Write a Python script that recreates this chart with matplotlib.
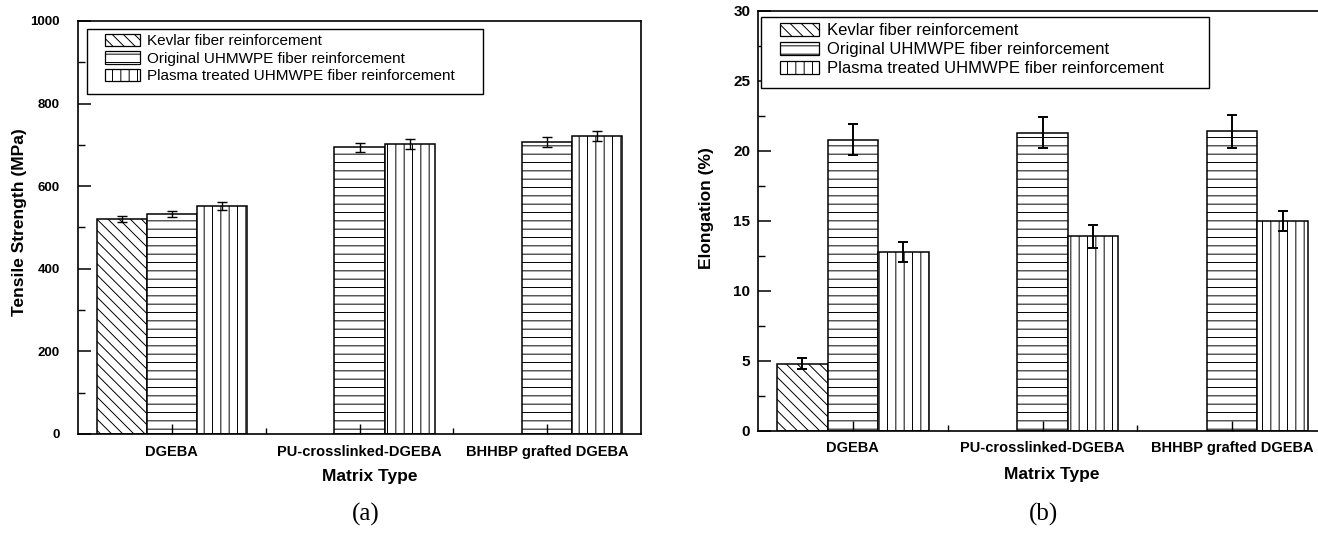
import numpy as np
import matplotlib
matplotlib.use('Agg')
import matplotlib.pyplot as plt
from matplotlib.patches import Patch, Rectangle
from matplotlib.ticker import MultipleLocator, FixedLocator

plt.rcParams['font.family'] = ['Liberation Sans', 'DejaVu Sans']
plt.rcParams['hatch.linewidth'] = 0.7
plt.rcParams['hatch.color'] = 'black'

categories = ['DGEBA', 'PU-crosslinked-DGEBA', 'BHHBP grafted DGEBA']
series = ['Kevlar fiber reinforcement',
          'Original UHMWPE fiber reinforcement',
          'Plasma treated UHMWPE fiber reinforcement']
hatches = ['\\\\\\', '--', '||']

# (a) tensile strength, MPa
strength_kevlar = [521, np.nan, np.nan]
strength_kevlar_err = [8, np.nan, np.nan]
strength_orig = [533, 694, 707]
strength_orig_err = [8, 11, 12]
strength_plasma = [552, 702, 721]
strength_plasma_err = [10, 12, 12]

# (b) elongation, %
elong_kevlar = [4.8, np.nan, np.nan]
elong_kevlar_err = [0.4, np.nan, np.nan]
elong_orig = [20.8, 21.3, 21.4]
elong_orig_err = [1.1, 1.1, 1.2]
elong_plasma = [12.8, 13.9, 15.0]
elong_plasma_err = [0.7, 0.85, 0.7]

W, H = 1318, 533
fig = plt.figure(figsize=(W / 100, H / 100), dpi=100)

def px_axes(x0, x1, ytop, ybot):
    return fig.add_axes([x0 / W, 1 - ybot / H, (x1 - x0) / W, (ybot - ytop) / H])

ax1 = px_axes(78, 641, 21, 434)
ax2 = px_axes(758, 1327, 11, 431)

x = np.arange(1, len(categories) + 1)
bw = 0.267

def draw(ax, vals, errs, elw):
    for i, (v, e) in enumerate(zip(vals, errs)):
        pos = x + (i - 1) * bw
        ax.bar(pos, v, width=bw, facecolor='white', edgecolor='black',
               linewidth=1.1, hatch=hatches[i], zorder=1)
        ax.errorbar(pos, v, yerr=e, fmt='none', ecolor='black',
                    elinewidth=elw, capsize=3.5, capthick=elw, zorder=3)

draw(ax1, [strength_kevlar, strength_orig, strength_plasma],
     [strength_kevlar_err, strength_orig_err, strength_plasma_err], 1.0)
draw(ax2, [elong_kevlar, elong_orig, elong_plasma],
     [elong_kevlar_err, elong_orig_err, elong_plasma_err], 1.4)

def style(ax, ymax, ymaj, ymin, ytick_size, ypad, xpad):
    ax.set_xlim(0.5, 3.5)
    ax.set_ylim(0, ymax)
    ax.set_xticks(x)
    ax.set_xticklabels(categories, fontsize=10.5, fontweight='bold')
    ax.xaxis.set_minor_locator(FixedLocator([1.5, 2.5]))
    ax.yaxis.set_major_locator(MultipleLocator(ymaj))
    ax.yaxis.set_minor_locator(MultipleLocator(ymin))
    ax.tick_params(axis='both', which='both', direction='in', top=False, right=False)
    ax.tick_params(axis='y', which='major', length=9, width=1.1,
                   labelsize=ytick_size, pad=ypad)
    ax.tick_params(axis='y', which='minor', length=5, width=1.0)
    ax.tick_params(axis='x', which='major', length=7, width=1.0, pad=xpad)
    ax.tick_params(axis='x', which='minor', length=4, width=1.0)
    for lab in ax.get_yticklabels():
        lab.set_fontweight('bold')
    for s in ax.spines.values():
        s.set_linewidth(1.2)

style(ax1, 1000, 200, 100, 9.5, 13, 8)
style(ax2, 30, 5, 2.5, 11, 5.5, 7)

ax1.set_xlabel('Matrix Type', fontsize=12.5, fontweight='bold')
ax1.xaxis.set_label_coords((370 - 78) / 563, (434 - 476) / 413)
ax1.xaxis.label.set_va('center')
ax1.set_ylabel('Tensile Strength (MPa)', fontsize=12.5, fontweight='bold')
ax1.yaxis.set_label_coords((20 - 78) / 563, (434 - 222) / 413)
ax1.yaxis.label.set_va('center')

ax2.set_xlabel('Matrix Type', fontsize=12.5, fontweight='bold')
ax2.xaxis.set_label_coords((1052 - 758) / 569, (431 - 475) / 420)
ax2.xaxis.label.set_va('center')
ax2.set_ylabel('Elongation (%)', fontsize=12.5, fontweight='bold')
ax2.yaxis.set_label_coords((707 - 758) / 569, (431 - 208) / 420)
ax2.yaxis.label.set_va('center')

handles = [Patch(facecolor='white', edgecolor='black', linewidth=0.9, hatch=h)
           for h in hatches]

def legend_box(ax, frame, anchor, fsize, hlen):
    fx0, fy0, fx1, fy1 = frame
    rect = Rectangle((fx0 / W, 1 - fy1 / H), (fx1 - fx0) / W, (fy1 - fy0) / H,
                     transform=fig.transFigure, facecolor='white',
                     edgecolor='black', linewidth=1.0, zorder=4)
    ax.add_patch(rect)
    rect.set_clip_on(False)
    leg = ax.legend(handles, series, loc='upper left',
                    bbox_to_anchor=(anchor[0] / W, 1 - anchor[1] / H),
                    bbox_transform=fig.transFigure, frameon=False,
                    fontsize=fsize, borderpad=0, labelspacing=0.2,
                    handlelength=hlen, handleheight=0.85, handletextpad=0.45,
                    borderaxespad=0)
    leg.set_zorder(5)

legend_box(ax1, (87, 29, 483, 94), (105, 34), 11, 2.3)
legend_box(ax2, (761, 17, 1209, 88), (780, 23), 12, 2.35)

fig.text(366 / W, 1 - 514 / H, '(a)', ha='center', va='center',
         family=['Liberation Serif', 'DejaVu Serif'], fontsize=18)
fig.text(1043 / W, 1 - 514 / H, '(b)', ha='center', va='center',
         family=['Liberation Serif', 'DejaVu Serif'], fontsize=18)

fig.savefig('out.png', dpi=100)
